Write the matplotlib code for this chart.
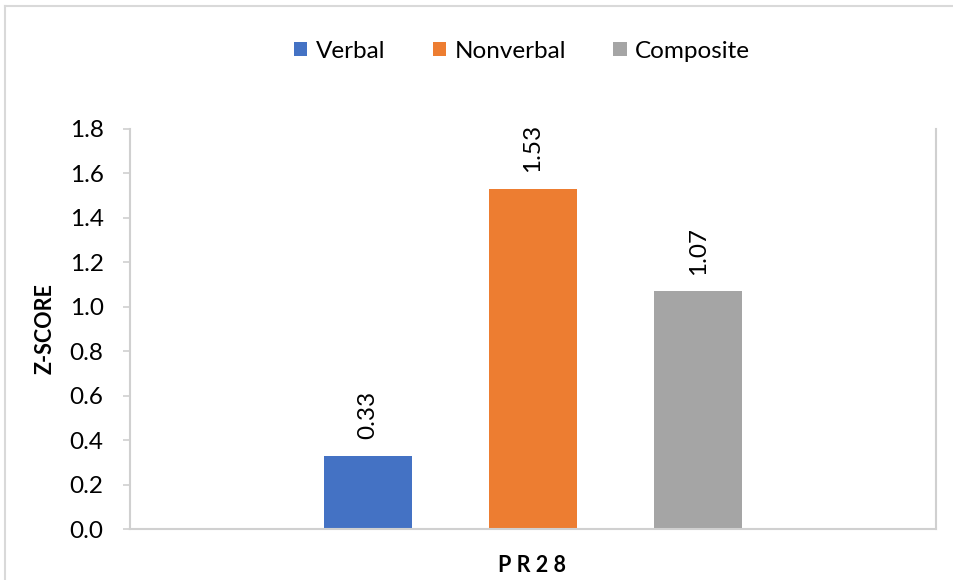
import matplotlib
matplotlib.use("Agg")
import matplotlib.pyplot as plt
from matplotlib.patches import Patch
from matplotlib.lines import Line2D

plt.rcParams['font.family'] = ['Lato', 'DejaVu Sans']

category = "PR28"
series = ["Verbal", "Nonverbal", "Composite"]
values = [0.33, 1.53, 1.07]
colors = ["#4472C4", "#ED7D31", "#A5A5A5"]
yticks = [0.0, 0.2, 0.4, 0.6, 0.8, 1.0, 1.2, 1.4, 1.6, 1.8]

fig = plt.figure(figsize=(9.54, 5.80), dpi=100)
ax = fig.add_axes([130/954, 51/580, 806/954, 400/580])

width = 0.109
offsets = [-0.205, 0.0, 0.205]
for off, v, c, name in zip(offsets, values, colors, series):
    ax.bar(off, v, width=width, color=c, label=name, zorder=2)
    ax.annotate(f"{v:.2f}", xy=(off, v), xytext=(0, 12), textcoords="offset points",
                rotation=90, ha="center", va="bottom", fontsize=17.5, color="#000000")

ax.set_xlim(-0.5, 0.5)
ax.set_ylim(0, 1.8)
ax.set_yticks(yticks)
ax.set_yticklabels([f"{t:.1f}" for t in yticks], fontsize=17.5)
ax.set_xticks([0])
ax.set_xticklabels([""])
ax.tick_params(axis='x', length=0)
ax.tick_params(axis='y', length=5, width=1.2, color="#D0D0D0", pad=14)

for s in ["left", "right", "bottom"]:
    ax.spines[s].set_color("#D0D0D0")
    ax.spines[s].set_linewidth(1.5)
ax.spines["top"].set_visible(False)

ax.set_ylabel("Z-SCORE", fontsize=15.5, fontweight="bold", labelpad=10)
fig.text(532/954, 1 - 565/580, "P R 2 8", ha="center", va="center",
         fontsize=15.5, fontweight="bold")

handles = [Patch(facecolor=c, edgecolor='none') for c in colors]
fig.legend(handles, series, loc="center", bbox_to_anchor=(522/954, 1 - 51/580),
           ncol=3, frameon=False, fontsize=17.5, handlelength=0.55, handleheight=0.55,
           handletextpad=0.35, columnspacing=1.95)

# outer chart-area border (top and left visible)
fig.add_artist(Line2D([5/954, 5/954], [0, 1 - 6/580], transform=fig.transFigure,
                      color="#D9D9D9", linewidth=1.5))
fig.add_artist(Line2D([5/954, 1], [1 - 6/580, 1 - 6/580], transform=fig.transFigure,
                      color="#D9D9D9", linewidth=1.5))

fig.savefig("out.png", dpi=100)
